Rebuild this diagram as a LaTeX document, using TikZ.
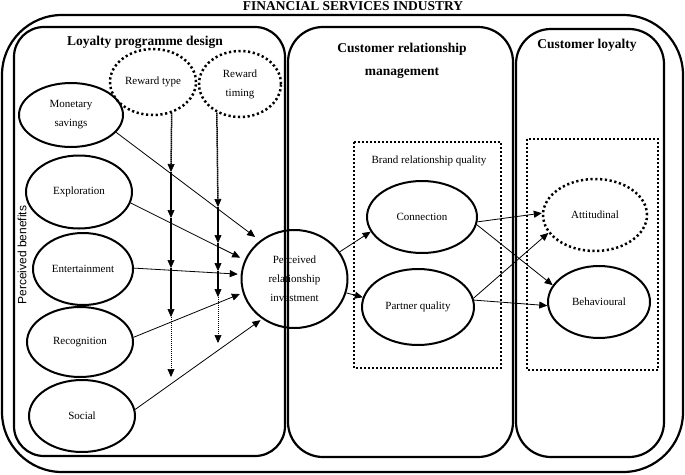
\documentclass[tikz,border=0pt]{standalone}
\usepackage{fontspec}
\setmainfont{Liberation Serif}
\newfontfamily\arialf{Liberation Sans}
\usetikzlibrary{shapes.geometric,arrows.meta}
\begin{document}
\begin{tikzpicture}[x=1pt,y=-1pt,
  box/.style={line width=2.2pt},
  ell/.style={ellipse,draw,line width=2pt,inner sep=0pt,align=center,font=\fontsize{11}{19}\selectfont},
  dotell/.style={ell,line width=2.5pt,dash pattern=on 2.2pt off 2.6pt},
  dotbox/.style={line width=1.8pt,dash pattern=on 1.8pt off 2.2pt},
  arr/.style={line width=0.8pt,-{Triangle[length=8pt,width=7pt]}},
  varr/.style={line width=1.5pt,dash pattern=on 1.6pt off 0.4pt,-{Triangle[length=8pt,width=7pt,line width=0.6pt]}},
  tarr/.style={line width=0.9pt,dash pattern=on 1pt off 1pt,-{Triangle[length=8pt,width=7pt,line width=0.6pt]}},
  head/.style={font=\fontsize{13.5}{23}\selectfont\bfseries,align=center},
  lab/.style={font=\fontsize{11}{13}\selectfont}]
\useasboundingbox (0,0) rectangle (685,474);
% containers
\draw[box,rounded corners=60pt] (2,15) rectangle (683,472);
\draw[box,rounded corners=30pt] (14,27) rectangle (285,456);
\draw[box,rounded corners=35pt] (288,27) rectangle (513,457);
\draw[box,rounded corners=35pt] (516,29) rectangle (664,457);
\draw[dotbox] (354,142) rectangle (501,368);
\draw[dotbox] (527,139) rectangle (658,370);
% headings
\node[font=\fontsize{13.5}{15}\selectfont\bfseries] (title) at (353,6) {FINANCIAL SERVICES INDUSTRY};
\node[head] (h1) at (145,42) {Loyalty programme design};
\node[head] (h2) at (402,61) {Customer relationship\\management};
\node[head] (h3) at (587,45) {Customer loyalty};
\node[lab] (brq) at (429,161) {Brand relationship quality};
\node[font=\arialf\fontsize{12}{14}\selectfont,rotate=90] (pb) at (22,255) {Perceived benefits};
% nodes
\node[ell,minimum width=104pt,minimum height=64pt] (mon) at (71,115) {Monetary\\savings};
\node[ell,minimum width=106pt,minimum height=73pt] (exp) at (79,192) {Exploration};
\node[ell,minimum width=100pt,minimum height=72pt] (ent) at (83,269) {Entertainment};
\node[ell,minimum width=106pt,minimum height=70pt] (rec) at (80,342) {Recognition};
\node[ell,minimum width=106pt,minimum height=72pt] (soc) at (82,416) {Social};
\node[dotell,minimum width=86pt,minimum height=66pt] (rt) at (153,82) {Reward type};
\node[dotell,minimum width=82pt,minimum height=66pt] (rti) at (240,84) {Reward\\timing};
\node[ell,minimum width=106pt,minimum height=98pt] (pri) at (294.5,279) {Perceived\\relationship\\investment};
\node[ell,minimum width=110pt,minimum height=72pt] (con) at (422,217) {Connection};
\node[ell,minimum width=112pt,minimum height=76pt] (par) at (418,307) {Partner quality};
\node[dotell,minimum width=104pt,minimum height=72pt] (att) at (595,215) {Attitudinal};
\node[ell,minimum width=102pt,minimum height=72pt] (beh) at (599,302) {Behavioural};
% moderator arrows
\coordinate (t1) at (171,172);
\coordinate (t2) at (171,218);
\coordinate (t3) at (171,268);
\coordinate (t4) at (171,317);
\coordinate (t5) at (171,377);
\coordinate (m1) at (218,207);
\coordinate (m2) at (218,243);
\coordinate (m3) at (218,271);
\coordinate (m4) at (218,297);
\coordinate (m5) at (218,343);
\draw[varr] (rt.-59) -- (t1);
\draw[varr] (t1) -- (t2);
\draw[varr] (t2) -- (t3);
\draw[varr] (t3) -- (t4);
\draw[tarr] (t4) -- (t5);
\draw[varr] (rti.231.6) -- (m1);
\draw[varr] (m1) -- (m2);
\draw[varr] (m2) -- (m3);
\draw[varr] (m3) -- (m4);
\draw[tarr] (m4) -- (m5);
% benefit arrows
\draw[arr,shorten >=6pt] (mon.-21) -- (pri.132);
\draw[arr,shorten >=5pt] (exp.-12) -- (pri.159);
\draw[arr,shorten >=3pt] (ent.1) -- (pri.175);
\draw[arr,shorten >=3pt] (rec.5) -- (pri.195);
\draw[arr,shorten >=2pt] (soc.7.5) -- (pri.231.6);
% CRM arrows
\draw[arr] (pri.31) -- (con.196);
\draw[arr] (pri.-15.5) -- (par.170);
\draw[arr] (con.-5) -- (att.178);
\draw[arr] (con.-8) -- (beh.160);
\draw[arr] (par.9) -- (att.201);
\draw[arr] (par.7) -- (beh.184);
\end{tikzpicture}
\end{document}
